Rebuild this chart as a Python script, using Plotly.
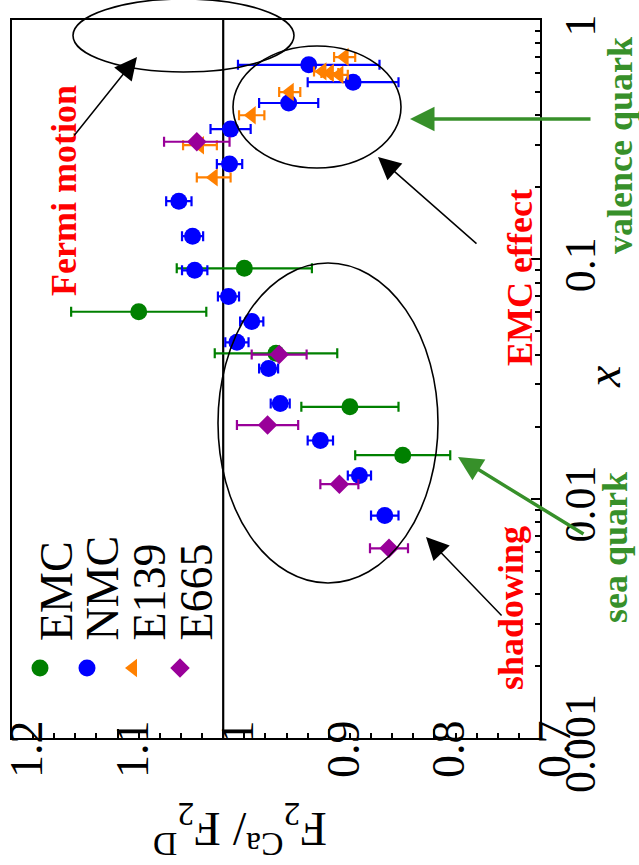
import plotly.graph_objects as go

# ---- data: F2(Ca)/F2(D) versus Bjorken x -------------------------------
emc_x = [0.0917, 0.0604, 0.0405, 0.0242, 0.0152]
emc_r = [0.980, 1.080, 0.950, 0.880, 0.830]
emc_e = [0.064, 0.064, 0.058, 0.046, 0.045]

nmc_x = [0.65, 0.55, 0.45, 0.35, 0.25, 0.175, 0.125, 0.09, 0.07, 0.055,
         0.045, 0.035, 0.025, 0.0175, 0.0125, 0.0085]
nmc_r = [0.919, 0.877, 0.938, 0.993, 0.994, 1.042, 1.029, 1.027, 0.995, 0.973,
         0.987, 0.957, 0.946, 0.908, 0.871, 0.847]
nmc_e = [0.067, 0.043, 0.028, 0.019, 0.012, 0.012, 0.010, 0.012, 0.010, 0.011,
         0.011, 0.009, 0.009, 0.012, 0.011, 0.013]

e139_x = [0.70, 0.61, 0.60, 0.59, 0.50, 0.40, 0.30, 0.22]
e139_r = [0.885, 0.906, 0.899, 0.890, 0.937, 0.973, 1.022, 1.009]
e139_e = [0.010, 0.008, 0.008, 0.008, 0.010, 0.012, 0.016, 0.016]

e665_x = [0.31, 0.040, 0.0203, 0.0115, 0.0062]
e665_r = [1.025, 0.947, 0.958, 0.890, 0.843]
e665_e = [0.031, 0.026, 0.029, 0.018, 0.018]

ratio_ticks = [1.2, 1.1, 1.0, 0.9, 0.8, 0.7]
ratio_labels = ["1.2", "1.1", "1", "0.9", "0.8", "0.7"]
x_ticks = [0.001, 0.01, 0.1, 1]
x_labels = ["0.001", "0.01", "0.1", "1"]

series_names = ["EMC", "NMC", "E139", "E665"]

# ---- page geometry ------------------------------------------------------
W, H = 639, 865
ML, MR, MT, MB = 12, 99, 20, 127
PW, PH = W - ML - MR, H - MT - MB

SERIF = "Liberation Serif, Times New Roman, serif"
GREEN_TXT = "#37902a"
COLORS = ["#008000", "#0000ff", "#ff8000", "#990099"]
SYMBOLS = ["circle", "circle", "triangle-left", "diamond"]
SIZES = [17, 17, 16, 15]


def pp(x, y):
    """pixel position on the page -> paper coordinates"""
    return (x - ML) / PW, (H - MB - y) / PH


fig = go.Figure()

series = [(emc_x, emc_r, emc_e), (nmc_x, nmc_r, nmc_e),
          (e139_x, e139_r, e139_e), (e665_x, e665_r, e665_e)]
for (xs, rs, es), name, col, sym, sz in zip(series, series_names, COLORS, SYMBOLS, SIZES):
    fig.add_trace(go.Scatter(
        x=rs, y=xs, mode="markers", name=name, showlegend=False,
        marker=dict(color=col, symbol=sym, size=sz, line=dict(width=0)),
        error_x=dict(type="data", array=es, color=col, thickness=2.2, width=5),
        cliponaxis=False,
    ))

# hand-made legend (vertical labels), drawn on an overlay of unit axes
leg_px = [40, 87, 133, 180]
leg_py = 668
leg_pos = [pp(x, leg_py) for x in leg_px]
for (lx, ly), name, col, sym, sz in zip(leg_pos, series_names, COLORS, SYMBOLS, SIZES):
    fig.add_trace(go.Scatter(
        x=[lx], y=[ly], mode="markers", showlegend=False, xaxis="x2", yaxis="y2",
        marker=dict(color=col, symbol=sym, size=sz, line=dict(width=0)),
        hoverinfo="skip",
    ))

annotations = []
for lx, name in zip([56, 102, 149, 196], series_names):
    ax_, ay_ = pp(lx, 643)
    annotations.append(dict(xref="paper", yref="paper", x=ax_, y=ay_,
                            text=name, showarrow=False, textangle=-90,
                            xanchor="center", yanchor="bottom",
                            font=dict(family=SERIF, size=46, color="black")))


def label(text, cx, cy, size, color, bold=True, italic=False):
    x, y = pp(cx, cy)
    t = f"<b>{text}</b>" if bold else text
    if italic:
        t = f"<i>{t}</i>"
    annotations.append(dict(xref="paper", yref="paper", x=x, y=y, text=t,
                            showarrow=False, textangle=-90,
                            xanchor="center", yanchor="middle",
                            font=dict(family=SERIF, size=size, color=color)))


label("Fermi motion", 64, 191, 36, "red")
label("EMC effect", 520, 278, 36, "red")
label("shadowing", 511, 608, 36, "red")
label("valence quark", 620, 146, 36, GREEN_TXT)
label("sea quark", 615, 548, 36, GREEN_TXT)
label("x", 603, 377, 48, "black", bold=False, italic=True)

# axis title of the ratio axis, written upside down
tx, ty = pp(240, 830)
annotations.append(dict(xref="paper", yref="paper", x=tx, y=ty, showarrow=False,
                        text="F<sub>2</sub><sup>Ca</sup>/ F<sub>2</sub><sup>D</sup>",
                        textangle=180, xanchor="center", yanchor="middle",
                        font=dict(family=SERIF, size=48, color="black")))


def arrow(tip, tail, color, width, size):
    x, y = pp(*tip)
    annotations.append(dict(xref="paper", yref="paper", x=x, y=y, text="",
                            showarrow=True, axref="pixel", ayref="pixel",
                            ax=tail[0] - tip[0], ay=tail[1] - tip[1],
                            arrowhead=2, arrowsize=size, arrowwidth=width,
                            arrowcolor=color, standoff=0))


arrow((137, 57), (73, 137), "black", 1.5, 3)
arrow((378, 157), (478, 245), "black", 1.5, 3)
arrow((426, 537), (503, 617), "black", 1.5, 3)
arrow((410, 119), (592, 119), GREEN_TXT, 3.5, 1.4)
arrow((458, 457), (585, 535), GREEN_TXT, 3.5, 1.4)


def ellipse(cx, cy, rx, ry):
    x0, y0 = pp(cx - rx, cy + ry)
    x1, y1 = pp(cx + rx, cy - ry)
    return dict(type="circle", xref="paper", yref="paper", x0=x0, x1=x1,
                y0=y0, y1=y1, line=dict(color="black", width=1.6), layer="above")


shapes = [
    dict(type="line", xref="x", yref="paper", x0=1, x1=1, y0=0, y1=1,
         line=dict(color="black", width=2.2), layer="below"),
    ellipse(183.5, 35.5, 110.5, 36.5),
    ellipse(317, 107, 84, 61),
    ellipse(328, 423, 110, 160),
]

minor_x = [k * 10 ** n for n in (-3, -2, -1) for k in range(2, 10)]

fig.update_layout(
    width=W, height=H,
    margin=dict(l=ML, r=MR, t=MT, b=MB, pad=0, autoexpand=False),
    paper_bgcolor="white", plot_bgcolor="white",
    showlegend=False,
    font=dict(family=SERIF, color="black"),
    xaxis=dict(
        range=[1.2, 0.7], tickmode="array", tickvals=ratio_ticks, ticktext=ratio_labels,
        ticks="inside", ticklen=9, tickwidth=2, tickcolor="black",
        minor=dict(dtick=0.02, ticks="inside", ticklen=5, tickwidth=2, tickcolor="black"),
        showline=True, linewidth=2.2, linecolor="black", mirror=True,
        showgrid=False, zeroline=False, tickangle=-90, automargin=False,
        ticklabeloverflow="allow", ticklabelstandoff=-38, ticklabelshift=-15,
        tickfont=dict(family=SERIF, size=46, color="black"),
    ),
    yaxis=dict(
        type="log", range=[-3, 0], side="right",
        tickmode="array", tickvals=x_ticks, ticktext=x_labels,
        ticks="inside", ticklen=9, tickwidth=2, tickcolor="black",
        minor=dict(tickvals=minor_x, ticks="inside", ticklen=5, tickwidth=2,
                   tickcolor="black"),
        showline=True, linewidth=2.2, linecolor="black", mirror=True,
        showgrid=False, zeroline=False, tickangle=-90, automargin=False,
        ticklabeloverflow="allow", ticklabelshift=12,
        tickfont=dict(family=SERIF, size=44, color="black"),
    ),
    xaxis2=dict(overlaying="x", range=[0, 1], visible=False),
    yaxis2=dict(overlaying="y", range=[0, 1], visible=False),
    annotations=annotations,
    shapes=shapes,
)

fig.write_html("out.html")
